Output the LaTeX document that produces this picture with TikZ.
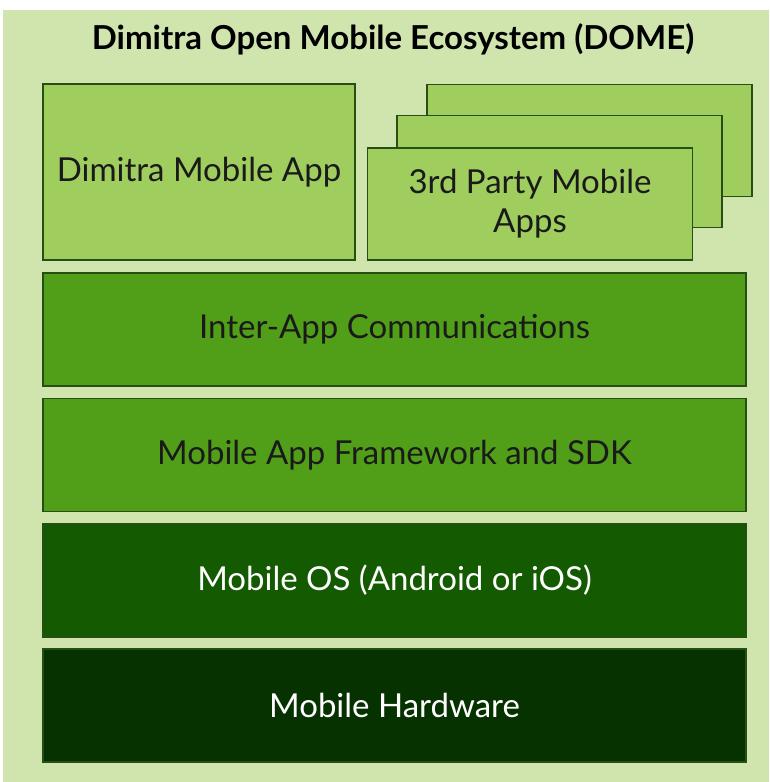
\documentclass[tikz,border=0pt]{standalone}
\usepackage{fontspec}
\setmainfont{Lato}
\usepackage{xcolor}
\usepackage{tikz}
\usetikzlibrary{positioning}
\definecolor{pagebg}{HTML}{D0E4AE}
\definecolor{applight}{HTML}{9FCD5E}
\definecolor{midgreen}{HTML}{519F19}
\definecolor{osgreen}{HTML}{135A00}
\definecolor{hwgreen}{HTML}{063200}
\definecolor{edgegreen}{HTML}{274E13}
\definecolor{inkdark}{HTML}{1A1A1A}

\begin{document}
\begin{tikzpicture}[x=1pt,y=-1pt]
    \tikzset{layer/.style= {draw=edgegreen, line width=1.2pt, rectangle, align=center, minimum width=703pt, minimum height=113pt, inner sep=0pt, font=\fontsize{33}{39}\selectfont},
      app/.style={layer, fill=applight, text=inkdark},
      stack/.style={app, minimum width=325pt, minimum height=112pt},
    }
    % page and title
    \useasboundingbox (0,0) rectangle (769,782);
    \fill[white] (0,0) rectangle (769,782);
    \fill[pagebg] (3,10) rectangle (769,782);
    \node[font=\fontsize{33}{38}\selectfont\bfseries, text=black] at (393,39) (title) {Dimitra Open Mobile Ecosystem (DOME)};

    % apps
    \node[app, minimum width=312pt, minimum height=176pt] at (199,172) (dimapp) {Dimitra Mobile App};
    \node[stack] at (589.5,140.5) (third3) {};
    \node[stack] at (559.5,171.5) (third2) {};
    \node[stack] at (530,204) (third1) {3rd Party Mobile\\Apps};

    % layers
    \node[layer, fill=midgreen, text=inkdark] at (394.5,329.5) (iac) {Inter-App Communications};
    \node[layer, fill=midgreen, text=inkdark] at (394.5,455) (sdk) {Mobile App Framework and SDK};
    \node[layer, fill=osgreen, text=white] at (394.5,580.5) (os) {Mobile OS (Android or iOS)};
    \node[layer, fill=hwgreen, text=white] at (394.5,705.5) (hw) {Mobile Hardware};
  \end{tikzpicture}
\end{document}
